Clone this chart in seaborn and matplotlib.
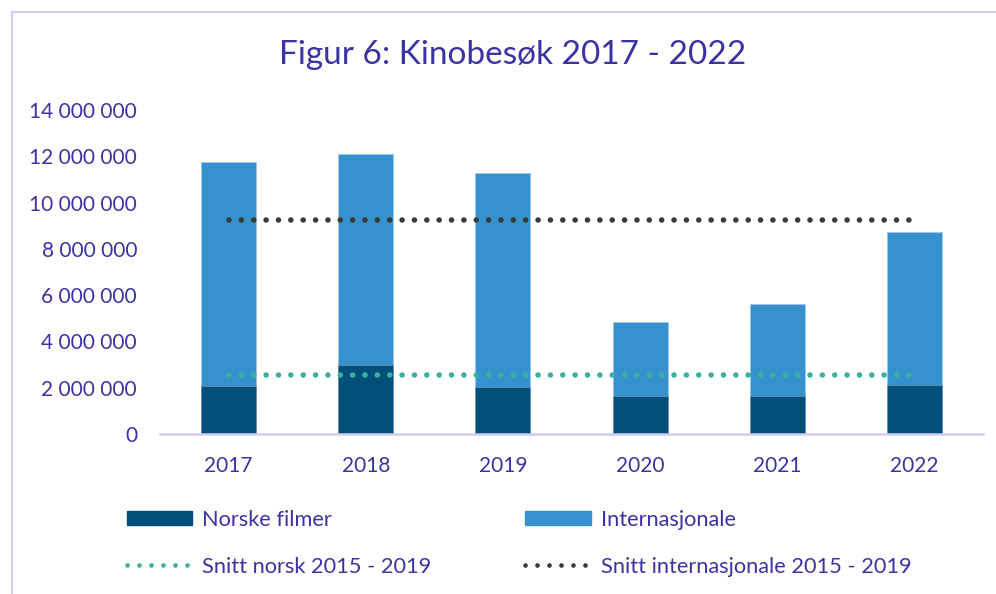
import matplotlib
matplotlib.use("Agg")
import matplotlib.pyplot as plt
import seaborn as sns
import pandas as pd
from matplotlib.patches import Rectangle, Patch
from matplotlib.lines import Line2D
from matplotlib.ticker import FuncFormatter

years = ["2017", "2018", "2019", "2020", "2021", "2022"]
norske = [2090000, 2990000, 2040000, 1660000, 1660000, 2130000]
internasjonale = [9650000, 9100000, 9230000, 3170000, 3960000, 6600000]
snitt_norsk = [2560000] * 6
snitt_internasjonale = [9250000] * 6
y_ticks = [0, 2000000, 4000000, 6000000, 8000000, 10000000, 12000000, 14000000]

total = [n + i for n, i in zip(norske, internasjonale)]
df = pd.DataFrame({"year": years, "norske": norske, "total": total,
                   "snitt_n": snitt_norsk, "snitt_i": snitt_internasjonale})

TXT = "#3b33a3"
C_NOR = "#02507a"
C_INT = "#3692cf"
C_SN = "#3ab0a2"
C_SI = "#3a3a3a"
FONT = ["Lato", "DejaVu Sans"]

sns.set_theme(style="white")
plt.rcParams["font.family"] = FONT

W, H = 996, 594
fig = plt.figure(figsize=(W / 100, H / 100), dpi=100)
ax = fig.add_axes([160 / W, (H - 434) / H, (983 - 160) / W, (434 - 110) / H])

sns.barplot(data=df, x="year", y="total", color=C_INT, width=0.4, ax=ax,
            edgecolor="#9cc6e8", linewidth=0.6, saturation=1)
sns.barplot(data=df, x="year", y="norske", color=C_NOR, width=0.4, ax=ax,
            edgecolor="#6c93ad", linewidth=0.6, saturation=1)

DOT_LW = 4.0
DOT_STYLE = (0, (0.01, 8.86 / DOT_LW))
xpos = list(range(len(years)))
ax.plot(xpos, df["snitt_i"], color=C_SI, lw=DOT_LW, linestyle=DOT_STYLE,
        dash_capstyle="round")
ax.plot(xpos, df["snitt_n"], color=C_SN, lw=DOT_LW, linestyle=DOT_STYLE,
        dash_capstyle="round")

ax.set_xlim(-0.5, 5.5)
ax.set_ylim(0, 14000000)
ax.set_yticks(y_ticks)
ax.yaxis.set_major_formatter(FuncFormatter(lambda v, p: f"{int(v):,}".replace(",", " ")))
ax.set_xlabel("")
ax.set_ylabel("")
for s in ["top", "right", "left"]:
    ax.spines[s].set_visible(False)
ax.spines["bottom"].set_color("#d2cdf0")
ax.spines["bottom"].set_linewidth(1.8)
ax.tick_params(axis="both", length=0, labelsize=15, labelcolor=TXT)
ax.tick_params(axis="y", pad=16.5)
ax.tick_params(axis="x", pad=16)

fig.text(513 / W, 1 - 55 / H, "Figur 6: Kinobesøk 2017 - 2022", ha="center", va="center",
         fontsize=24, color=TXT)

# figure border
fig.patches.append(Rectangle((12 / W, -0.1), 1.2, (H - 12) / H + 0.1,
                             transform=fig.transFigure, fill=False,
                             edgecolor="#d2cdf0", linewidth=1.5))

LEG_LW = 3.4
LEG_STYLE = (0, (0.01, 8.6 / LEG_LW))
handles = [
    Patch(facecolor=C_NOR, edgecolor=C_NOR),
    Line2D([0], [0], color=C_SN, lw=LEG_LW, linestyle=LEG_STYLE, dash_capstyle="round"),
    Patch(facecolor=C_INT, edgecolor=C_INT),
    Line2D([0], [0], color=C_SI, lw=LEG_LW, linestyle=LEG_STYLE, dash_capstyle="round"),
]
labels = ["Norske filmer", "Snitt norsk 2015 - 2019", "Internasjonale",
          "Snitt internasjonale 2015 - 2019"]
leg = fig.legend(handles, labels, ncol=2, loc="upper left",
                 bbox_to_anchor=(127 / W, 1 - 510 / H), frameon=False,
                 fontsize=15.7, handlelength=3.0, handleheight=0.62,
                 handletextpad=0.46, columnspacing=4.3, labelspacing=1.22,
                 borderpad=0, borderaxespad=0)
for t in leg.get_texts():
    t.set_color(TXT)

fig.savefig("out.png", dpi=100)
